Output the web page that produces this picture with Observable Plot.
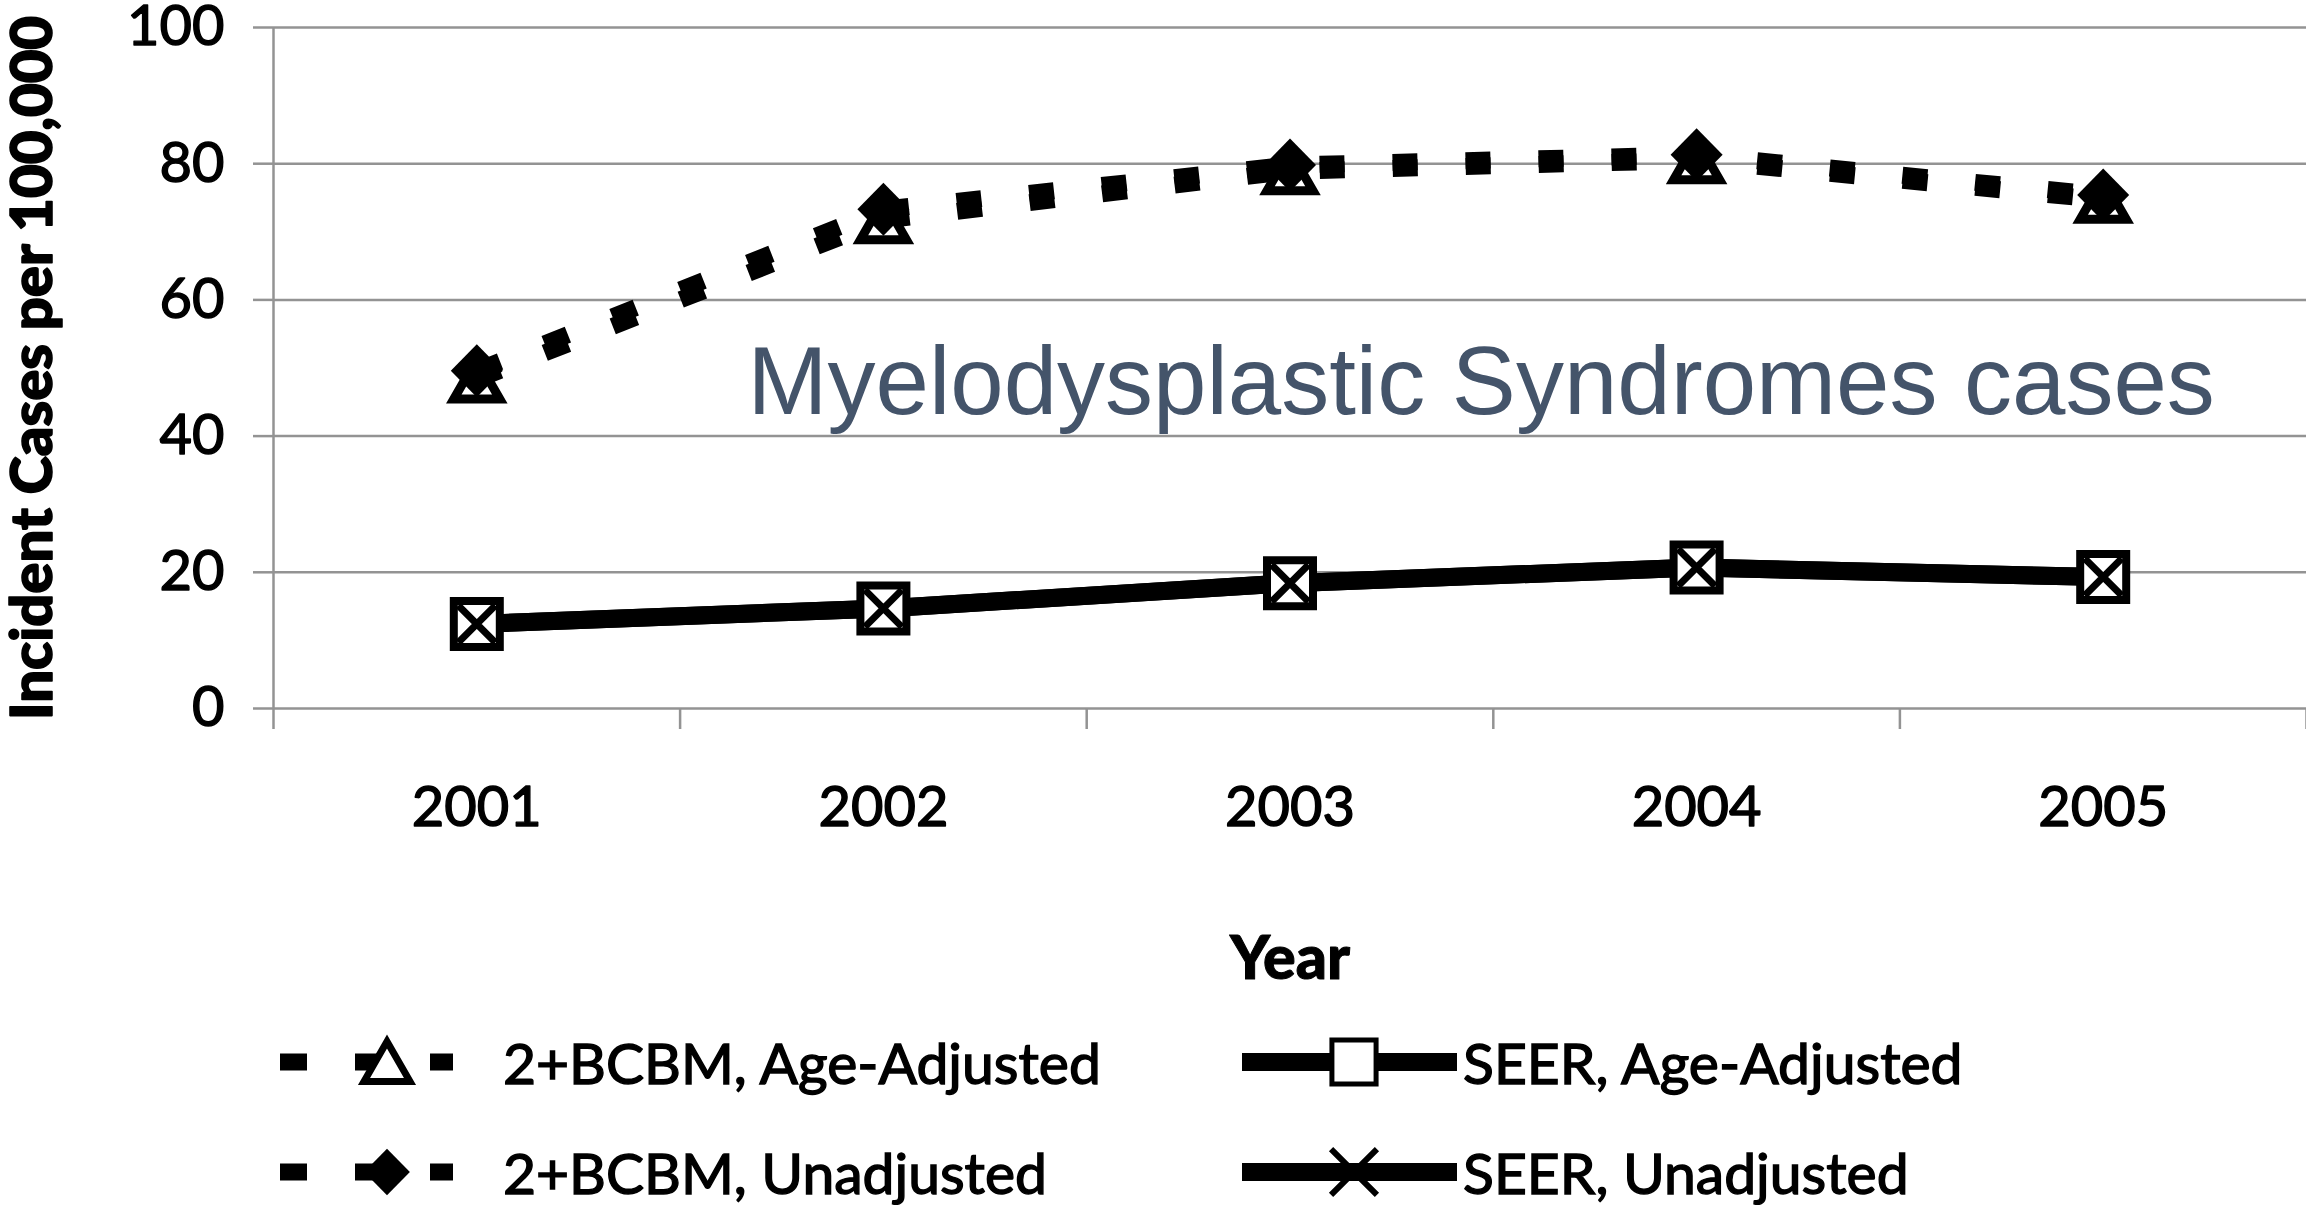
<!DOCTYPE html>
<html>
<head>
<meta charset="utf-8">
<script src="https://cdn.jsdelivr.net/npm/d3@7"></script>
<script src="https://cdn.jsdelivr.net/npm/@observablehq/plot@0.6"></script>
<style>
  html, body { margin: 0; padding: 0; background: #fff; overflow: hidden; }
  #chart { width: 2306px; }
  #legend { position: relative; width: 2306px; height: 195px; font-family: Lato, sans-serif; font-size: 57px; color: #000; }
  .item { position: absolute; height: 80px; display: flex; align-items: center; }
  .item svg { display: block; }
  .item span { white-space: nowrap; line-height: 80px; -webkit-text-stroke: 1.4px #000; }
</style>
</head>
<body>
<div id="chart"></div>
<div id="legend"></div>
<script>
// ---- data ----
const years = [2001, 2002, 2003, 2004, 2005];
const bcbmAgeAdjusted = [48.3, 71.7, 78.9, 80.5, 74.7];
const bcbmUnadjusted = [49.6, 73.3, 79.8, 81.3, 75.4];
const seerAgeAdjusted = [12.4, 14.7, 18.4, 20.7, 19.3];
const seerUnadjusted = [12.4, 14.7, 18.4, 20.7, 19.3];
const yTicks = [0, 20, 40, 60, 80, 100];
const xBoundaries = [2000.5, 2001.5, 2002.5, 2003.5, 2004.5, 2005.5];
const seriesNames = ["2+BCBM, Age-Adjusted", "2+BCBM, Unadjusted", "SEER, Age-Adjusted", "SEER, Unadjusted"];
const yTitle = [{label: "Incident Cases per 100,000", x: 2000.5, y: 50}];
const xTitle = "Year";
const annotation = [{label: "Myelodysplastic Syndromes cases", x: 2001.666, y: 43.3}];

const rows = arr => years.map((year, i) => ({year, value: arr[i]}));

// ---- custom marker shapes (scaled by r) ----
const rad = size => Math.sqrt(size / Math.PI);
const triangleSym = {draw(ctx, size) { const r = rad(size);
  ctx.moveTo(0, -0.82 * r); ctx.lineTo(0.92 * r, 0.78 * r); ctx.lineTo(-0.92 * r, 0.78 * r); ctx.closePath(); }};
const diamondSym = {draw(ctx, size) { const r = rad(size);
  ctx.moveTo(0, -1.06 * r); ctx.lineTo(1.04 * r, 0); ctx.lineTo(0, 1.06 * r); ctx.lineTo(-1.04 * r, 0); ctx.closePath(); }};
const squareSym = {draw(ctx, size) { const r = rad(size), h = 0.92 * r;
  ctx.rect(-h, -h, 2 * h, 2 * h); }};
const timesSym = {draw(ctx, size) { const r = rad(size), k = 0.74 * r;
  ctx.moveTo(-k, -k); ctx.lineTo(k, k); ctx.moveTo(k, -k); ctx.lineTo(-k, k); }};

const gridColor = "#939393";
const dashPattern = "25,48";

const plot = Plot.plot({
  width: 2306,
  height: 1010,
  marginLeft: 273,
  marginRight: 0,
  marginTop: 27,
  marginBottom: 302,
  style: {fontFamily: "Lato, sans-serif", fontSize: "56px", color: "#000", background: "#fff"},
  x: {type: "linear", domain: [2000.5, 2005.5]},
  y: {domain: [0, 100]},
  marks: [
    Plot.gridY(yTicks, {stroke: gridColor, strokeOpacity: 1, strokeWidth: 2.5}),
    Plot.axisY(yTicks, {tickSize: 20, tickPadding: 29, stroke: gridColor, strokeWidth: 2.5, fill: "#000",
      textStroke: "#000", textStrokeWidth: 1.4, textStrokeOpacity: 1, label: null, fontSize: 56}),
    Plot.ruleX([2000.5], {stroke: gridColor, strokeWidth: 2.5}),
    Plot.axisX(xBoundaries, {tickSize: 21, stroke: gridColor, strokeWidth: 2.5, tickFormat: () => "", label: null}),
    Plot.axisX(years, {tickSize: 0, tickPadding: 78, tickFormat: d => String(d), fill: "#000",
      textStroke: "#000", textStrokeWidth: 1.4, textStrokeOpacity: 1, label: null, fontSize: 56}),
    Plot.text([xTitle], {frameAnchor: "bottom", dy: 270, fontWeight: 900, fontSize: 61, fill: "#000", stroke: "#000", strokeWidth: 1}),
    Plot.text(yTitle, {x: "x", y: "y", text: "label", rotate: -90, dx: -240, fontWeight: 900, fontSize: 58,
      fill: "#000", stroke: "#000", strokeWidth: 1.6, textAnchor: "middle"}),
    Plot.text(annotation, {x: "x", y: "y", text: "label", textAnchor: "start", lineAnchor: "bottom",
      fill: "#44546A", fontFamily: "'Liberation Sans', Arial, sans-serif", fontSize: 96}),
    // lines
    Plot.line(rows(bcbmAgeAdjusted), {x: "year", y: "value", stroke: "#000", strokeWidth: 17, strokeDasharray: dashPattern, strokeLinecap: "butt"}),
    Plot.line(rows(bcbmUnadjusted), {x: "year", y: "value", stroke: "#000", strokeWidth: 17, strokeDasharray: dashPattern, strokeLinecap: "butt"}),
    Plot.line(rows(seerAgeAdjusted), {x: "year", y: "value", stroke: "#000", strokeWidth: 18}),
    Plot.line(rows(seerUnadjusted), {x: "year", y: "value", stroke: "#000", strokeWidth: 18}),
    // markers
    Plot.dot(rows(bcbmAgeAdjusted), {x: "year", y: "value", symbol: triangleSym, r: 25, fill: "#fff", stroke: "#000", strokeWidth: 9}),
    Plot.dot(rows(bcbmUnadjusted), {x: "year", y: "value", symbol: diamondSym, r: 25, fill: "#000", stroke: "none"}),
    Plot.dot(rows(seerAgeAdjusted), {x: "year", y: "value", symbol: squareSym, r: 25, fill: "#fff", stroke: "#000", strokeWidth: 8}),
    Plot.dot(rows(seerUnadjusted), {x: "year", y: "value", symbol: timesSym, r: 25, fill: "none", stroke: "#000", strokeWidth: 7})
  ]
});
document.getElementById("chart").appendChild(plot);

// ---- legend ----
const legendSpec = [
  {name: seriesNames[0], left: 270, top: 12, dashed: true, sym: triangleSym, r: 25, fill: "#fff", stroke: "#000", sw: 7, x0: 10, x1: 183, mx: 117, w: 200, textLeft: 503},
  {name: seriesNames[1], left: 270, top: 122, dashed: true, sym: diamondSym, r: 22, fill: "#000", stroke: "none", sw: 0, x0: 10, x1: 183, mx: 117, w: 200, textLeft: 503},
  {name: seriesNames[2], left: 1232, top: 12, dashed: false, sym: squareSym, r: 24, fill: "#fff", stroke: "#000", sw: 5, x0: 10, x1: 225, mx: 122, w: 231, textLeft: 1463},
  {name: seriesNames[3], left: 1232, top: 122, dashed: false, sym: timesSym, r: 31, fill: "none", stroke: "#000", sw: 6, x0: 10, x1: 225, mx: 122, w: 231, textLeft: 1463}
];
const legend = d3.select("#legend");
for (const s of legendSpec) {
  const sv = legend.append("div").attr("class", "item").style("left", s.left + "px").style("top", s.top + "px")
    .append("svg").attr("width", s.w).attr("height", 80);
  sv.append("line").attr("x1", s.x0).attr("x2", s.x1).attr("y1", 40).attr("y2", 40)
    .attr("stroke", "#000").attr("stroke-width", s.dashed ? 17 : 18)
    .attr("stroke-dasharray", s.dashed ? "27,48" : null);
  sv.append("path").attr("d", d3.symbol(s.sym, Math.PI * s.r * s.r)()).attr("transform", `translate(${s.mx},40)`)
    .attr("fill", s.fill).attr("stroke", s.stroke).attr("stroke-width", s.sw);
  legend.append("div").attr("class", "item").style("left", s.textLeft + "px").style("top", s.top + "px")
    .append("span").text(s.name);
}
</script>
</body>
</html>
